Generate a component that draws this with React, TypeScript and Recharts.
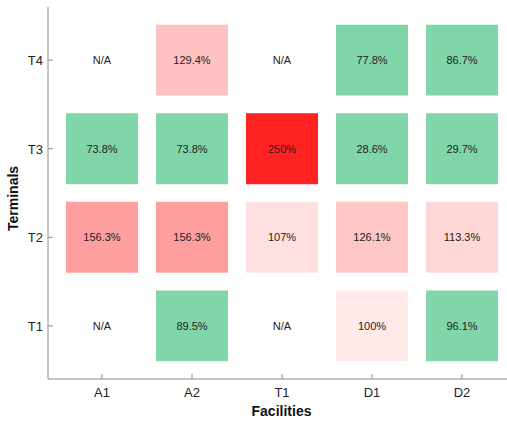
import { ScatterChart, Scatter, XAxis, YAxis, ReferenceArea } from 'recharts';

const facilities = ['A1', 'A2', 'T1', 'D1', 'D2'];
const terminals = ['T1', 'T2', 'T3', 'T4'];

// ratio in %, rows T1..T4, columns A1..D2; null = N/A
const t1Values = [null, 89.5, null, 100, 96.1];
const t2Values = [156.3, 156.3, 107, 126.1, 113.3];
const t3Values = [73.8, 73.8, 250, 28.6, 29.7];
const t4Values = [null, 129.4, null, 77.8, 86.7];

const rows = [t1Values, t2Values, t3Values, t4Values];

const FONT = '"Liberation Sans", Arial, Helvetica, sans-serif';

const cellColor = (v: number | null) => {
  if (v === null) return 'none';
  if (v < 100) return '#80d6a8';
  const f = Math.min(1, 0.1 + ((v - 100) / 150) * 0.9);
  const g = Math.round(255 - 221 * f);
  return `rgb(255,${g},${g})`;
};

const formatValue = (v: number | null) => (v === null ? 'N/A' : `${v}%`);

const cells = rows.flatMap((vals, r) =>
  vals.map((v, c) => ({ x: c + 1, y: r + 1, value: v, label: formatValue(v) }))
);

const CellLabel = (props: any) => {
  const { cx, cy, payload } = props;
  return (
    <text x={cx} y={cy} dy={4} textAnchor="middle" fontSize={11} fill="#222" fontFamily={FONT}>
      {payload.label}
    </text>
  );
};

const XTick = (props: any) => {
  const { x, y, payload } = props;
  return (
    <g>
      <line x1={x} y1={y} x2={x} y2={y - 5} stroke="#8c8c8c" />
      <text x={x} y={y} dy={18} textAnchor="middle" fontSize={13} fill="#222" fontFamily={FONT}>
        {facilities[payload.value - 1]}
      </text>
    </g>
  );
};

const YTick = (props: any) => {
  const { x, y, payload } = props;
  return (
    <g>
      <line x1={x} y1={y} x2={x + 5} y2={y} stroke="#8c8c8c" />
      <text x={x - 5} y={y} dy={5} textAnchor="end" fontSize={13} fill="#222" fontFamily={FONT}>
        {terminals[payload.value - 1]}
      </text>
    </g>
  );
};

export default function App() {
  return (
    <div style={{ position: 'absolute', top: 0, left: 0, background: '#fff' }}>
      <ScatterChart width={507} height={422} margin={{ top: 7, right: 0, left: 0, bottom: 0 }}>
        <XAxis
          type="number"
          dataKey="x"
          domain={[0.4, 5.5]}
          ticks={[1, 2, 3, 4, 5]}
          allowDataOverflow
          height={43}
          tickSize={0}
          tickMargin={0}
          tickLine={false}
          tick={<XTick />}
          axisLine={{ stroke: '#8c8c8c' }}
          label={{
            value: 'Facilities',
            position: 'insideBottom',
            dx: 4,
            dy: -1,
            style: { fontSize: 14, fontWeight: 'bold', fill: '#111', fontFamily: FONT },
          }}
        />
        <YAxis
          type="number"
          dataKey="y"
          domain={[0.4, 4.6]}
          ticks={[1, 2, 3, 4]}
          allowDataOverflow
          width={48}
          tickSize={0}
          tickMargin={0}
          tickLine={false}
          tick={<YTick />}
          axisLine={{ stroke: '#8c8c8c' }}
          label={{
            value: 'Terminals',
            angle: -90,
            position: 'insideLeft',
            dx: 8,
            dy: 38,
            style: { fontSize: 14, fontWeight: 'bold', fill: '#111', fontFamily: FONT },
          }}
        />
        {cells
          .filter((d) => d.value !== null)
          .map((d) => (
            <ReferenceArea
              key={`${d.x}-${d.y}`}
              x1={d.x - 0.4}
              x2={d.x + 0.4}
              y1={d.y - 0.4}
              y2={d.y + 0.4}
              fill={cellColor(d.value)}
              fillOpacity={1}
              stroke="none"
            />
          ))}
        <Scatter data={cells} shape={<CellLabel />} isAnimationActive={false} />
      </ScatterChart>
    </div>
  );
}
